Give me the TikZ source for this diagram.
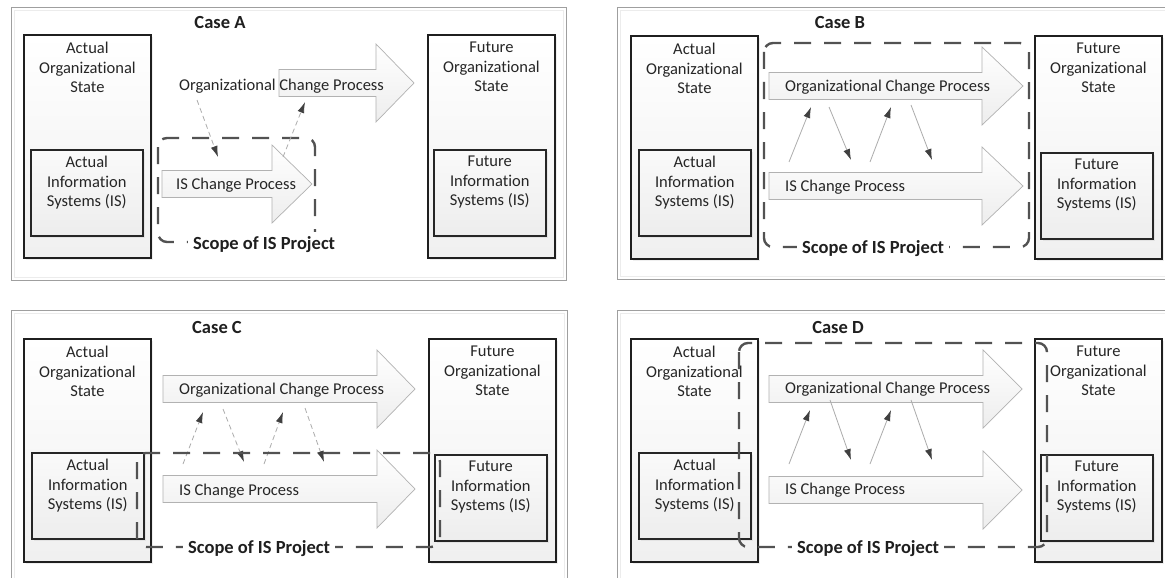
\documentclass[tikz,border=0pt]{standalone}
\usepackage{fontspec}
\setmainfont{Carlito}[Ligatures={NoCommon,NoRequired,NoContextual}, Contextuals=NoAlternate]
\usetikzlibrary{arrows.meta,shadows}
\tikzset{
  panel/.style={draw=gray!75, line width=0.9pt},
  panelin/.style={draw=gray!15, line width=0.8pt},
  obox/.style={draw=black!88, line width=1.8pt, top color=white, bottom color=gray!12, inner sep=0pt,
    minimum width=127pt, minimum height=223pt, anchor=north west,
    drop shadow={opacity=0.12, shadow xshift=2pt, shadow yshift=-2pt}},
  ibox/.style={draw=black!85, line width=1.6pt, top color=gray!4, bottom color=gray!14, inner sep=0pt,
    minimum width=112pt, minimum height=86pt, anchor=north west,
    drop shadow={opacity=0.12, shadow xshift=2pt, shadow yshift=-2pt}},
  barrow/.style={draw=gray!60, line width=0.7pt, top color=white, bottom color=gray!14},
  scopebox/.style={draw=black!68, line width=2.4pt, dash pattern=on 17pt off 13pt, rounded corners=9pt},
  txt/.style={font=\fontsize{16.5}{19.5}\selectfont, text=black!85, inner sep=0pt, align=center},
  ttl/.style={font=\bfseries\fontsize{18.5}{22}\selectfont, text=black!88, inner sep=0pt, anchor=base},
  scopetxt/.style={font=\bfseries\fontsize{18.5}{22}\selectfont, text=black!88, fill=white,
    inner xsep=5pt, inner ysep=4pt, anchor=base west},
  link/.style={draw=gray!65, line width=0.8pt, -{Latex[length=11pt,width=7pt,color=black!75]}},
  dlink/.style={link, dash pattern=on 5pt off 3.5pt},
}
\newcommand{\procarrow}[4]{%
  \draw[barrow] (#1,#4-13.5) -- (#2,#4-13.5) -- (#2,#4-39) -- (#3,#4) -- (#2,#4+39) -- (#2,#4+13.5) -- (#1,#4+13.5) -- cycle;}
\begin{document}
\begin{tikzpicture}[x=1pt, y=-1pt]
\useasboundingbox (0,0) rectangle (1165,578);
\clip (0,0) rectangle (1165,578);
\fill[white] (0,0) rectangle (1165,578);

% ---------- panels ----------
\draw[panelin] (14,10) rectangle (563,277);
\draw[panel] (11,7) rectangle (566,280);
\draw[panelin] (620,10) rectangle (1169,276);
\draw[panel] (617,7) rectangle (1172,279);
\draw[panelin] (14,313) rectangle (564,600);
\draw[panel] (11,310) rectangle (567,603);
\draw[panelin] (620,313) rectangle (1169,600);
\draw[panel] (617,310) rectangle (1172,603);

% ================= CASE A =================
\node[ttl] (tA) at (220,29) {Case A};
\node[obox] (aOA) at (23,34) {};
\node[ibox] (aIA) at (30,149) {};
\node[obox] (aOF) at (427,34) {};
\node[ibox] (aIF) at (433,149) {};
\node[txt, anchor=north] (aOAt) at ([yshift=-8pt]aOA.north) {Actual\\Organizational\\State};
\node[txt, anchor=north] (aIAt) at ([yshift=-7pt]aIA.north) {Actual\\Information\\Systems (IS)};
\node[txt, anchor=north] (aOFt) at ([yshift=-8pt]aOF.north) {Future\\Organizational\\State};
\node[txt, anchor=north] (aIFt) at ([yshift=-7pt]aIF.north) {Future\\Information\\Systems (IS)};
\procarrow{279}{376}{414}{83}
\procarrow{162}{272}{312}{184}
\draw[scopebox] (158,138) rectangle (315,242);
\node[txt, anchor=base] (aOCt) at (281.5,90.5) {Organizational Change Process};
\node[txt, anchor=base west] (aISt) at (176,189.5) {IS Change Process};
\coordinate (a1s) at (197,100); \coordinate (a1e) at (218,157);
\coordinate (a2s) at (283,157); \coordinate (a2e) at (305,102);
\draw[dlink] (a1s) -- (a1e);
\draw[dlink] (a2s) -- (a2e);
\node[scopetxt] (aSt) at (188,249) {Scope of IS Project};

% ================= CASE B =================
\node[ttl] (tB) at (840,29) {Case B};
\node[obox] (bOA) at (630,35) {};
\node[ibox] (bIA) at (638,149) {};
\node[obox] (bOF) at (1034,35) {};
\node[ibox] (bIF) at (1040,152) {};
\node[txt, anchor=north] (bOAt) at ([yshift=-8pt]bOA.north) {Actual\\Organizational\\State};
\node[txt, anchor=north] (bIAt) at ([yshift=-7pt]bIA.north) {Actual\\Information\\Systems (IS)};
\node[txt, anchor=north] (bOFt) at ([yshift=-8pt]bOF.north) {Future\\Organizational\\State};
\node[txt, anchor=north] (bIFt) at ([yshift=-7pt]bIF.north) {Future\\Information\\Systems (IS)};
\procarrow{769}{982}{1023}{86}
\procarrow{769}{982}{1023}{186}
\draw[scopebox] (764,43) rectangle (1029,247);
\node[txt, anchor=base west] (bOCt) at (785,91.5) {Organizational Change Process};
\node[txt, anchor=base west] (bISt) at (785,191.5) {IS Change Process};
\coordinate (b1s) at (789,162); \coordinate (b1e) at (811,107);
\coordinate (b2s) at (829,107); \coordinate (b2e) at (851,160);
\coordinate (b3s) at (870,162); \coordinate (b3e) at (891,107);
\coordinate (b4s) at (911,105); \coordinate (b4e) at (932,160);
\draw[link] (b1s) -- (b1e);
\draw[link] (b2s) -- (b2e);
\draw[link] (b3s) -- (b3e);
\draw[link] (b4s) -- (b4e);
\node[scopetxt] (bSt) at (797,253) {Scope of IS Project\hspace{12pt}};

% ================= CASE C =================
\node[ttl] (tC) at (217,333) {Case C};
\node[obox] (cOA) at (23,338) {};
\node[ibox] (cIA) at (31,452) {};
\node[obox] (cOF) at (428,338) {};
\node[ibox] (cIF) at (434,454) {};
\node[txt, anchor=north] (cOAt) at ([yshift=-8pt]cOA.north) {Actual\\Organizational\\State};
\node[txt, anchor=north] (cIAt) at ([yshift=-7pt]cIA.north) {Actual\\Information\\Systems (IS)};
\node[txt, anchor=north] (cOFt) at ([yshift=-8pt]cOF.north) {Future\\Organizational\\State};
\node[txt, anchor=north] (cIFt) at ([yshift=-7pt]cIF.north) {Future\\Information\\Systems (IS)};
\procarrow{163}{377}{415}{389}
\procarrow{163}{377}{415}{489}
\node[txt, anchor=base west] (cOCt) at (179,394.5) {Organizational Change Process};
\node[txt, anchor=base west] (cISt) at (179,495.5) {IS Change Process};
\coordinate (c1s) at (183,464); \coordinate (c1e) at (203,412);
\coordinate (c2s) at (223,409); \coordinate (c2e) at (244,462);
\coordinate (c3s) at (264,464); \coordinate (c3e) at (283,412);
\coordinate (c4s) at (305,408); \coordinate (c4e) at (324,462);
\draw[dlink] (c1s) -- (c1e);
\draw[dlink] (c2s) -- (c2e);
\draw[dlink] (c3s) -- (c3e);
\draw[dlink] (c4s) -- (c4e);
\draw[scopebox] (137,453) rectangle (440,547);
\node[scopetxt] (cSt) at (183,553) {Scope of IS Project};

% ================= CASE D =================
\node[ttl] (tD) at (838,333) {Case D};
\node[obox] (dOA) at (630,338) {};
\node[ibox] (dIA) at (638,452) {};
\node[obox] (dOF) at (1034,338) {};
\node[ibox] (dIF) at (1040,454) {};
\node[txt, anchor=north] (dOAt) at ([yshift=-8pt]dOA.north) {Actual\\Organizational\\State};
\node[txt, anchor=north] (dIAt) at ([yshift=-7pt]dIA.north) {Actual\\Information\\Systems (IS)};
\node[txt, anchor=north] (dOFt) at ([yshift=-8pt]dOF.north) {Future\\Organizational\\State};
\node[txt, anchor=north] (dIFt) at ([yshift=-7pt]dIF.north) {Future\\Information\\Systems (IS)};
\procarrow{769}{983}{1022}{389}
\procarrow{769}{983}{1022}{490}
\node[txt, anchor=base west] (dOCt) at (785,393.5) {Organizational Change Process};
\node[txt, anchor=base west] (dISt) at (785,494.5) {IS Change Process};
\coordinate (d1s) at (789,464); \coordinate (d1e) at (810,410);
\coordinate (d2s) at (830,400); \coordinate (d2e) at (851,460);
\coordinate (d3s) at (870,464); \coordinate (d3e) at (891,410);
\coordinate (d4s) at (911,400); \coordinate (d4e) at (932,460);
\draw[link] (d1s) -- (d1e);
\draw[link] (d2s) -- (d2e);
\draw[link] (d3s) -- (d3e);
\draw[link] (d4s) -- (d4e);
\draw[scopebox] (739,343) rectangle (1047,547);
\node[scopetxt] (dSt) at (792,553) {Scope of IS Project};
\end{tikzpicture}
\end{document}
